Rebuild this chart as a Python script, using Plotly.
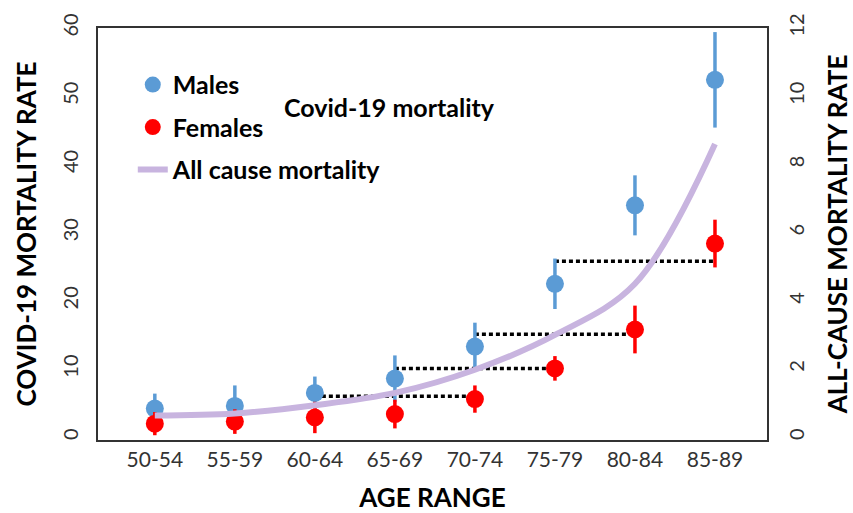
import plotly.graph_objects as go

age_groups = ["50-54", "55-59", "60-64", "65-69", "70-74", "75-79", "80-84", "85-89"]
males = [4.2, 4.6, 6.5, 8.6, 13.3, 22.5, 34.0, 52.4]
males_err = [2.2, 3.0, 2.4, 3.4, 3.5, 3.7, 4.4, 7.0]
females = [2.0, 2.3, 2.9, 3.4, 5.6, 10.1, 15.8, 28.4]
females_err = [1.7, 1.8, 2.3, 2.1, 2.0, 1.8, 3.5, 3.5]
all_cause = [0.64, 0.70, 0.94, 1.30, 1.98, 3.0, 4.5, 8.6]

# dotted comparison lines: from male group index to female group index, at level
cmp_start = [2, 3, 4, 5]
cmp_end = [4, 5, 6, 7]
cmp_level = [6.0, 10.1, 15.1, 25.8]

FONT = "Lato"
BLUE = "#5B9BD5"
RED = "#FF0000"
PURPLE = "#C8B4DF"

xi = list(range(len(age_groups)))
fig = go.Figure()

fig.add_trace(go.Scatter(
    x=xi, y=all_cause, yaxis="y2", mode="lines", name="<b>All cause mortality</b>",
    line=dict(color=PURPLE, width=6, shape="spline", smoothing=1.0),
    legendgroup="c", legendrank=3))

for s, e, lv in zip(cmp_start, cmp_end, cmp_level):
    fig.add_trace(go.Scatter(
        x=[s, e], y=[lv, lv], mode="lines", showlegend=False,
        line=dict(color="black", width=3.5, dash="4px,3px"), hoverinfo="skip"))

fig.add_trace(go.Scatter(
    x=xi, y=males, mode="markers", name="<b>Males</b>",
    marker=dict(color=BLUE, size=18),
    error_y=dict(type="data", array=males_err, color=BLUE, thickness=3.5, width=0),
    legendgroup="a", legendrank=1))
fig.add_trace(go.Scatter(
    x=xi, y=females, mode="markers", name="<b>Females</b>",
    marker=dict(color=RED, size=18),
    error_y=dict(type="data", array=females_err, color=RED, thickness=3.5, width=0),
    legendgroup="b", legendrank=2))

fig.add_annotation(text="<b>Covid-19 mortality</b>", xref="paper", yref="paper",
                   x=0.435, y=0.808, xanchor="center", yanchor="middle", showarrow=False,
                   font=dict(family=FONT, size=25, color="black"))

fig.update_layout(
    width=853, height=513,
    margin=dict(l=98, r=86, t=28, b=73, autoexpand=False),
    plot_bgcolor="white", paper_bgcolor="white",
    font=dict(family=FONT, color="#333333"),
    showlegend=True,
    legend=dict(x=0.052, y=0.918, xanchor="left", yanchor="top",
                bgcolor="rgba(0,0,0,0)", font=dict(family=FONT, size=25, color="black"),
                traceorder="grouped", tracegroupgap=7, itemsizing="trace"),
    xaxis=dict(range=[-0.71, 7.65], tickvals=xi, ticktext=age_groups, automargin=False,
               showgrid=False, zeroline=False, showline=True, mirror=True,
               linecolor="#333333", linewidth=2, ticks="",
               tickfont=dict(family=FONT, size=21, color="#333333"),
               title=dict(text="<b>AGE RANGE</b>", font=dict(family=FONT, size=26, color="black"),
                          standoff=24)),
    yaxis=dict(range=[-0.4, 60], tickvals=[0, 10, 20, 30, 40, 50, 60], automargin=False,
               showgrid=False, zeroline=False, showline=True, mirror=True,
               linecolor="#333333", linewidth=2, ticks="", tickangle=-90,
               ticklabelstandoff=10,
               tickfont=dict(family=FONT, size=20, color="#333333"),
               title=dict(text="<b>COVID-19 MORTALITY RATE</b>",
                          font=dict(family=FONT, size=26, color="black"), standoff=14)),
    yaxis2=dict(range=[-0.08, 12], tickvals=[0, 2, 4, 6, 8, 10, 12], overlaying="y", side="right",
                automargin=False,
                showgrid=False, zeroline=False, showline=False, ticks="", tickangle=-90,
                ticklabelstandoff=16,
                tickfont=dict(family=FONT, size=20, color="#333333"),
                title=dict(text="<b>ALL-CAUSE MORTALITY RATE</b>",
                           font=dict(family=FONT, size=26, color="black"), standoff=23)),
)

fig.write_html("out.html", config={"displayModeBar": False},
               post_script="document.body.style.margin='0';")
